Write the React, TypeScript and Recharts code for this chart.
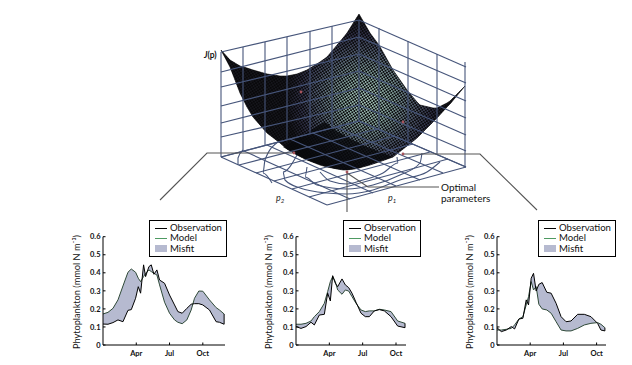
import React from "react";
import { ComposedChart, Area, Line, XAxis, YAxis, Legend } from "recharts";

// ---------- seasonal panels ----------
const tickMonths = [4, 7, 10];
const tickNames = ["Apr", "Jul", "Oct"];
const yTicks = [0, 0.1, 0.2, 0.3, 0.4, 0.5, 0.6];
const legendLabels = ["Observation", "Model", "Misfit"];
const yTitle = "Phytoplankton (mmol N m⁻³)";

const months1 = [1.0,1.45,1.9,2.35,2.8,3.25,3.55,3.94,4.18,4.39,4.66,4.84,5.14,5.35,5.59,5.86,6.1,6.55,7.0,7.45,7.75,8.14,8.56,8.95,9.25,9.64,10.0,10.6,11.2,11.5,11.92];
const obs1 = [.116,.115,.124,.139,.129,.192,.196,.259,.323,.287,.444,.379,.434,.444,.392,.416,.36,.342,.277,.222,.185,.176,.203,.226,.229,.229,.222,.194,.129,.126,.115];
const model1 = [.172,.181,.203,.25,.327,.403,.421,.403,.37,.351,.379,.397,.416,.407,.397,.388,.333,.237,.176,.139,.126,.118,.139,.194,.259,.299,.298,.25,.207,.194,.172];

const months2 = [1,1.45,1.9,2.35,2.65,3.1,3.55,3.85,4.09,4.3,4.54,4.75,5.14,5.44,5.74,6.04,6.4,6.85,7.24,7.6,8.05,8.5,8.95,9.55,10.15,10.81];
const obs2 = [.102,.092,.102,.126,.111,.166,.17,.287,.244,.384,.342,.323,.366,.333,.318,.287,.237,.176,.157,.157,.189,.196,.189,.157,.105,.096];
const model2 = [.115,.115,.12,.133,.157,.185,.231,.296,.351,.379,.351,.305,.281,.305,.299,.268,.231,.194,.185,.189,.189,.198,.194,.185,.133,.12];

const months3 = [1,1.39,1.84,2.29,2.59,2.98,3.34,3.64,3.85,4.09,4.3,4.54,4.78,5.08,5.5,5.89,6.34,6.79,7.24,7.69,8.29,8.89,9.49,10.09,10.39,10.75];
const obs3 = [.096,.074,.083,.102,.089,.144,.148,.25,.222,.37,.397,.299,.336,.346,.292,.287,.231,.157,.129,.133,.17,.17,.157,.12,.083,.078];
const model3 = [.083,.083,.087,.092,.111,.144,.157,.222,.268,.351,.305,.323,.226,.2,.194,.176,.129,.083,.078,.078,.092,.111,.12,.124,.115,.096];

// ---------- misfit surface ----------
const surfX = [221,230,240,247,253,267,280,287,297,307,320,327,343,347,359,370,379,393,407,417,420,433,437,447,450,465];
const surfTop = [50,60,66,68,70,74,76,76,74,70,62,57,38,33,14,33,45,70,90,102,105,108,108,103,101,86];
const surfBottom = [50,67,93,107,117,133,143,149,155,160,165,167,170,170,168,165,162,157,146,138,135,122,118,107,104,86];
const foldX = [283,295,307,316,325,335,347,357,367,380,393];
const foldTop = [147,140,133,127,122,130,137,142,147,152,157];
const foldBottom = [147,154,160,163,166,169,170,169,165,161,157];

// ---------- wireframe box ----------
const leftWallX = [221,243,265,287,310,332,359];
const leftWallTopY = [52,47,42,37,31,26,20];
const leftWallBottomY = [157,151,145,139,133,127,121];
const rightWallX = [379,408,437,465];
const rightWallTopY = [28,41,54,62];
const rightWallBottomY = [129,142,154,167];
const rowsLeftEnd = [52,72,87,106,123,137,157];
const rowsBackEnd = [20,37,54,71,88,105,121];
const rowsRightEnd = [67,83,101,118,135,151,167];
const floorAStart = [[221,157],[239,165],[256,173],[274,181],[292,189],[309,197],[327,205]];
const floorAEnd = [[359,121],[377,129],[395,136],[413,144],[430,152],[448,159],[466,167]];
const floorBStart = [[221,157],[244,151],[267,145],[290,139],[313,133],[336,127],[359,121]];
const floorBEnd = [[327,205],[350,199],[373,193],[396,186],[420,180],[443,173],[466,167]];
const contours = [
  [[243,150],[238,158],[238,165]],
  [[278,142],[265,160],[263,173],[272,183]],
  [[297,155],[283,172],[285,180],[300,188],[327,193],[347,194],[373,190],[400,180],[427,172],[440,162]],
  [[307,167],[305,177],[317,185],[347,189],[373,185],[400,175],[420,163],[422,153]],
  [[320,172],[330,181],[347,184],[363,180],[383,173],[398,163],[397,157]],
];
const connectLeft = [[160,200],[207,153],[294,153]];
const connectRight = [[403,154],[480,154],[537,210]];
const connectCentre = [[347,172],[347,212]];
const connectOptimal = [[347,173],[368,187],[439,187]];
const surfaceDots = [[301,92],[403,122],[294,153],[403,154],[347,172]];

const pts = (p: number[][]) => p.map(([x, y]) => ({ x, y }));
const seg = (ax: number, ay: number, bx: number, by: number) => [{ x: ax, y: ay }, { x: bx, y: by }];

const wire = "#46557a";

function TopPanel() {
  const surface = surfX.map((x, i) => ({ x, band: [surfTop[i], surfBottom[i]] }));
  const fold = foldX.map((x, i) => ({ x, band: [foldTop[i], foldBottom[i]] }));
  const wires: { x: number; y: number }[][] = [];
  leftWallX.forEach((x, i) => wires.push(seg(x, leftWallTopY[i], x, leftWallBottomY[i])));
  rightWallX.forEach((x, i) => wires.push(seg(x, rightWallTopY[i], x, rightWallBottomY[i])));
  rowsLeftEnd.forEach((y, i) => {
    wires.push(seg(221, y, 359, rowsBackEnd[i]));
    wires.push(seg(359, rowsBackEnd[i], 466, rowsRightEnd[i]));
  });
  floorAStart.forEach((p, i) => wires.push(seg(p[0], p[1], floorAEnd[i][0], floorAEnd[i][1])));
  floorBStart.forEach((p, i) => wires.push(seg(p[0], p[1], floorBEnd[i][0], floorBEnd[i][1])));
  const plain = { dot: false, activeDot: false, isAnimationActive: false, legendType: "none" as const };
  return (
    <div style={{ position: "absolute", left: 0, top: 0 }}>
      <ComposedChart width={632} height={215} margin={{ top: 0, right: 0, bottom: 0, left: 0 }}>
        <defs>
          <radialGradient id="sheen" gradientUnits="userSpaceOnUse" cx="366" cy="100" r="80">
            <stop offset="0" stopColor="#b0d0c4" />
            <stop offset="0.3" stopColor="#8cacA4" />
            <stop offset="0.6" stopColor="#566274" />
            <stop offset="0.82" stopColor="#32324a" />
            <stop offset="1" stopColor="#16161c" />
          </radialGradient>
          <pattern id="mesh" width="3.4" height="3.4" patternUnits="userSpaceOnUse" patternTransform="rotate(12)">
            <path d="M0 0h3.4v3.4h-3.4z M0 0h1.6v1.6h-1.6z M1.7 1.7h1.6v1.6h-1.6z" fill="#08080a" fillRule="evenodd" />
          </pattern>
        </defs>
        <XAxis type="number" dataKey="x" domain={[0, 632]} hide />
        <YAxis type="number" domain={[0, 215]} reversed hide />
        {wires.map((d, i) => (
          <Line key={"w" + i} data={d} dataKey="y" stroke={wire} strokeWidth={1.1} {...plain} />
        ))}
        {contours.map((d, i) => (
          <Line key={"c" + i} data={pts(d)} dataKey="y" type="monotone" stroke={wire} strokeWidth={1.1} {...plain} />
        ))}
        {[connectLeft, connectRight, connectCentre, connectOptimal].map((d, i) => (
          <Line key={"k" + i} data={pts(d)} dataKey="y" stroke="#555" strokeWidth={1.1} {...plain} />
        ))}
        <Area data={surface} dataKey="band" stroke="none" fill="url(#sheen)" fillOpacity={1} dot={false} activeDot={false} isAnimationActive={false} />
        <Area data={surface} dataKey="band" stroke="#0a0a0c" strokeWidth={0.6} fill="url(#mesh)" fillOpacity={1} dot={false} activeDot={false} isAnimationActive={false} />
        <Area data={fold} dataKey="band" stroke="none" fill="#08090b" fillOpacity={0.8} dot={false} activeDot={false} isAnimationActive={false} />
        <Line data={pts(surfaceDots)} dataKey="y" stroke="none" dot={{ r: 1.4, fill: "#a8545c", stroke: "none" }} activeDot={false} isAnimationActive={false} />
        <text x={204} y={58} fontFamily="Lato" fontSize={8.5} fontWeight={700} fill="#111"><tspan fontStyle="italic">J</tspan>(p)</text>
        <text x={276} y={201} fontFamily="Lato" fontSize={9} fontStyle="italic" fill="#222">p<tspan fontSize={6} dy={1.5}>2</tspan></text>
        <text x={388} y={201} fontFamily="Lato" fontSize={9} fontStyle="italic" fill="#222">p<tspan fontSize={6} dy={1.5}>1</tspan></text>
        <text x={441} y={191} fontFamily="Lato" fontSize={10} fill="#111">Optimal</text>
        <text x={441} y={201.5} fontFamily="Lato" fontSize={10} fill="#111">parameters</text>
      </ComposedChart>
    </div>
  );
}

function LegendBox() {
  const row: React.CSSProperties = { display: "flex", alignItems: "center", height: 10.3, lineHeight: "10px", whiteSpace: "nowrap" };
  const swatch = { width: 12, flex: "none", marginRight: 3 };
  return (
    <div style={{ boxSizing: "border-box", width: 78, height: 37, border: "1px solid #000", background: "#fff", padding: "2px 0 0 5px", fontFamily: "Lato", fontSize: 9.6, color: "#111" }}>
      <div style={row}><span style={{ ...swatch, height: 1, background: "#000" }} />{legendLabels[0]}</div>
      <div style={row}><span style={{ ...swatch, height: 1, background: "#4e9a62" }} />{legendLabels[1]}</div>
      <div style={row}><span style={{ ...swatch, height: 7, background: "#b6bad0" }} />{legendLabels[2]}</div>
    </div>
  );
}

type PanelProps = { left: number; plotLeft: number; plotWidth: number; maxMonth: number; legendX: number; titleX: number; months: number[]; obs: number[]; model: number[] };

function Panel({ left, plotLeft, plotWidth, maxMonth, legendX, titleX, months, obs, model }: PanelProps) {
  const width = 170;
  const yW = plotLeft - left;
  const data = months.map((m, i) => ({ m, obs: obs[i], model: model[i], band: [obs[i], model[i]] }));
  const last = months.length - 1;
  const closer = [{ m: months[last], y: obs[last] }, { m: months[last], y: model[last] }];
  const tickFont = { fontFamily: "Lato", fontSize: 7.5, fontWeight: 700, fill: "#111" };
  return (
    <div style={{ position: "absolute", left, top: 215 }}>
      <ComposedChart width={width} height={150} data={data} margin={{ top: 21.7, right: width - yW - plotWidth, bottom: 0, left: 0 }}>
        <XAxis type="number" dataKey="m" domain={[1, maxMonth]} ticks={tickMonths} tickFormatter={(v: number) => tickNames[tickMonths.indexOf(v)]}
          height={20} tickSize={-2.5} tickMargin={8} tick={tickFont} stroke="#000" interval={0} />
        <YAxis type="number" domain={[0, 0.6]} ticks={yTicks} tickFormatter={(v: number) => (v === 0 ? "0" : v.toFixed(1))}
          width={yW} tickSize={-2.5} tickMargin={5} tick={tickFont} stroke="#000" interval={0} />
        <Area dataKey="band" stroke="none" fill="#b6bad0" fillOpacity={1} dot={false} activeDot={false} isAnimationActive={false} />
        <Line dataKey="model" stroke="#2f4a38" strokeWidth={1} dot={false} activeDot={false} isAnimationActive={false} />
        <Line dataKey="obs" stroke="#000" strokeWidth={1} dot={false} activeDot={false} isAnimationActive={false} />
        <Line data={closer} dataKey="y" stroke="#000" strokeWidth={1} dot={false} activeDot={false} isAnimationActive={false} />
        <text transform={`translate(${titleX},77) rotate(-90)`} textAnchor="middle" fontFamily="Lato" fontSize={9.2} fill="#111">{yTitle}</text>
        <Legend layout="vertical" align="center" verticalAlign="middle" wrapperStyle={{ left: legendX, top: 5, width: 78, height: 37 }} content={() => <LegendBox />} />
      </ComposedChart>
    </div>
  );
}

export default function App() {
  return (
    <div style={{ position: "absolute", left: 0, top: 0, width: 632, height: 365, background: "#fff" }}>
      <TopPanel />
      <Panel left={60} plotLeft={103} plotWidth={122} maxMonth={12} legendX={89} titleX={20} months={months1} obs={obs1} model={model1} />
      <Panel left={260} plotLeft={296} plotWidth={110} maxMonth={10.9} legendX={83} titleX={12} months={months2} obs={obs2} model={model2} />
      <Panel left={460} plotLeft={497} plotWidth={109} maxMonth={10.85} legendX={78} titleX={13} months={months3} obs={obs3} model={model3} />
    </div>
  );
}
